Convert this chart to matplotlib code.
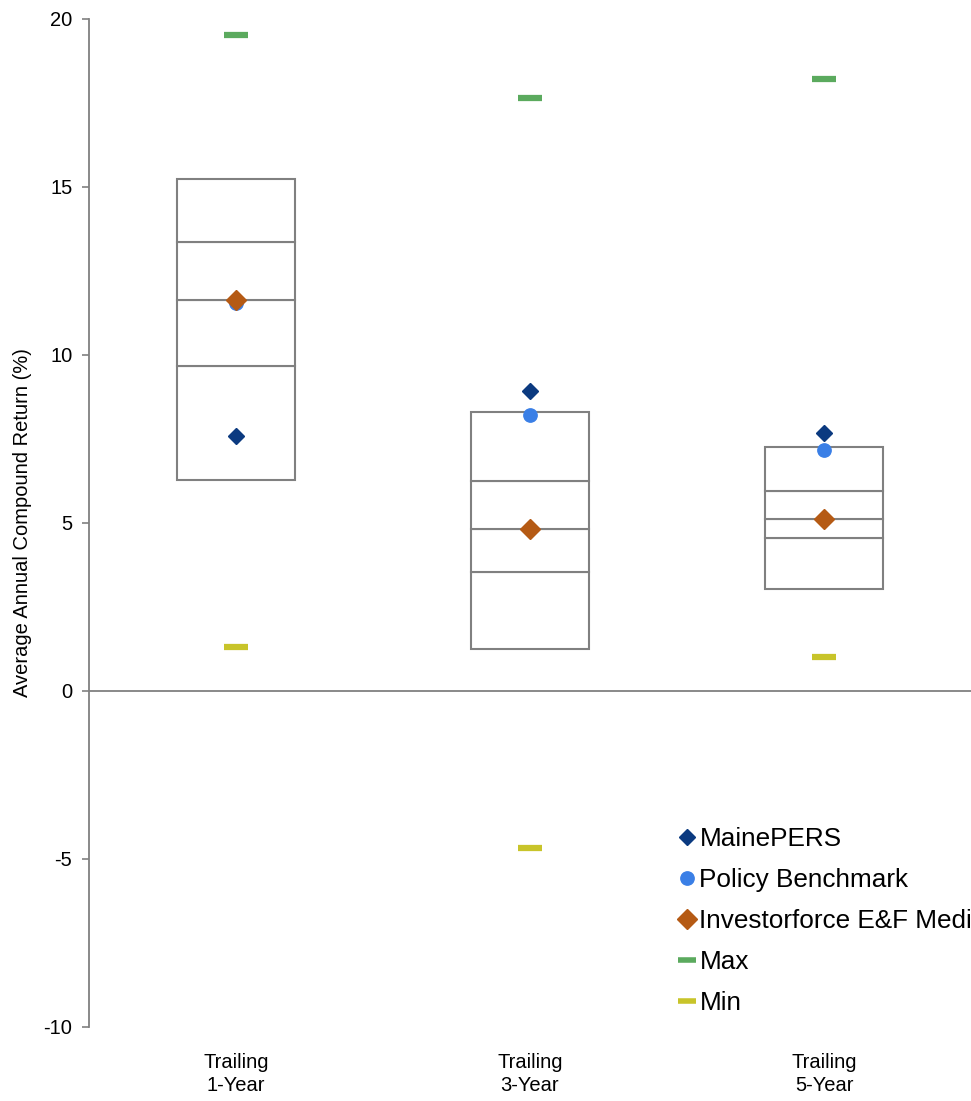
import matplotlib.pyplot as plt
import numpy as np

plt.rcParams['font.family'] = ['Liberation Sans', 'DejaVu Sans']
plt.rcParams['axes.unicode_minus'] = False

# data
periods = ["Trailing\n1-Year", "Trailing\n3-Year", "Trailing\n5-Year"]
p5 = [6.29, 1.25, 3.04]
p25 = [9.66, 3.54, 4.54]
p50 = [11.64, 4.82, 5.13]
p75 = [13.36, 6.25, 5.96]
p95 = [15.24, 8.30, 7.27]
mainepers = [7.59, 8.93, 7.69]
policy = [11.55, 8.21, 7.16]
median_ef = [11.64, 4.82, 5.13]
max_vals = [19.52, 17.65, 18.21]
min_vals = [1.31, -4.67, 1.01]

grey = "#808080"

fig = plt.figure(figsize=(9.71, 11.01), dpi=100)
ax = fig.add_axes([89/971, 1-1027/1101, 1-89/971, (1027-19)/1101])

x = np.arange(len(periods))

# boxes as stacked bars
lows = p5
levels = [p25, p50, p75, p95]
bottom = np.array(lows)
for lev in levels:
    h = np.array(lev) - bottom
    ax.bar(x, h, bottom=bottom, width=0.4, color="white", edgecolor=grey,
           linewidth=1.5, zorder=2)
    bottom = np.array(lev)

ax.axhline(0, color=grey, linewidth=1.3, zorder=1)

ax.plot(x, mainepers, ls="none", marker="D", ms=8.6, color="#0B3A80",
        label="MainePERS", zorder=4)
ax.plot(x, policy, ls="none", marker="o", ms=9.6, color="#3A7FE6",
        label="Policy Benchmark", zorder=4)
ax.plot(x, median_ef, ls="none", marker="D", ms=10.4, color="#B55A14",
        label="Investorforce E&F Median", zorder=5)
ax.plot(x, max_vals, ls="none", marker="_", ms=17, mew=4.5, color="#5BAA5E",
        label="Max", zorder=4)
ax.plot(x, min_vals, ls="none", marker="_", ms=17, mew=4.5, color="#C8C42A",
        label="Min", zorder=4)

ax.set_xlim(-0.5, 2.5)
ax.set_ylim(-10, 20)
ax.set_yticks(np.arange(-10, 21, 5))
ax.set_xticks(x)
ax.set_xticklabels(periods, fontsize=14.5, linespacing=1.25)
ax.tick_params(axis="x", length=0, pad=19)
ax.tick_params(axis="y", labelsize=14.5, color=grey, length=5, width=1.2, pad=7)

for s in ["top", "right", "bottom"]:
    ax.spines[s].set_visible(False)
ax.spines["left"].set_color(grey)
ax.spines["left"].set_linewidth(1.3)

ax.set_ylabel("Average Annual Compound Return (%)", fontsize=14.5, labelpad=8)

leg = ax.legend(loc="upper left", bbox_to_anchor=(0.656, 0.209), frameon=False,
                fontsize=18.8, handlelength=0.65, handletextpad=0.17,
                labelspacing=0.654, borderaxespad=0)
# smaller dashes in the legend
for ln in leg.get_lines()[3:]:
    ln.set_markersize(13)
    ln.set_markeredgewidth(4)

fig.savefig("out.png", dpi=100)
